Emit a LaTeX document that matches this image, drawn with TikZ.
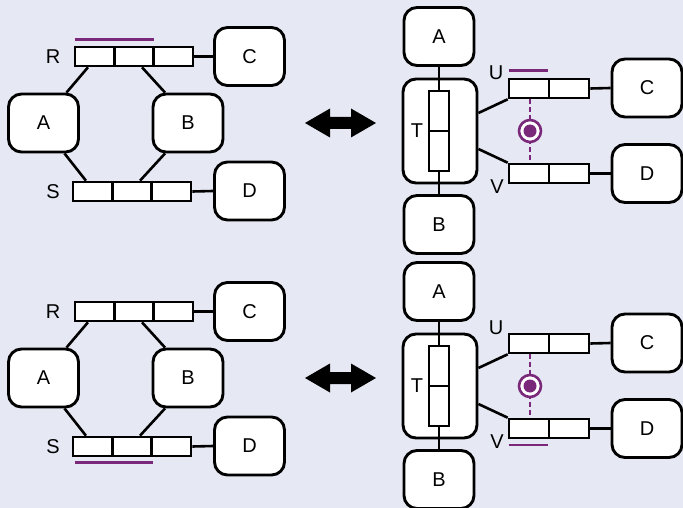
\documentclass[tikz,border=0pt]{standalone}
\usepackage{fontspec}
\setmainfont{Liberation Sans}
\definecolor{bg}{RGB}{230,233,244}
\definecolor{plum}{RGB}{122,40,122}
\tikzset{
  box/.style={draw, line width=2.9pt, fill=white, rounded corners=13pt,
    minimum width=70pt, minimum height=58pt, inner sep=0pt,
    font=\fontsize{20}{22}\selectfont},
  cell/.style={draw, line width=2.6pt, fill=white, minimum width=39.3pt,
    minimum height=19pt, inner sep=0pt},
  vcell/.style={draw, line width=2.6pt, fill=white, minimum width=20pt,
    minimum height=40pt, inner sep=0pt},
  tag/.style={font=\fontsize{20}{22}\selectfont, inner sep=0pt},
  wire/.style={line width=2.6pt},
  hiline/.style={plum, line width=2.4pt},
  link/.style={plum, line width=2.4pt, dash pattern=on 5pt off 3pt},
  ring/.style={draw=plum, line width=2.6pt, fill=white, circle,
    minimum size=22pt, inner sep=0pt},
  dot/.style={fill=plum, circle, minimum size=13pt, inner sep=0pt},
}
% ring network: A and B joined through the two three-cell buses R and S
\newcommand\ringnet{%
  \node[cell] (R1) at (94.67,56.5) {};
  \node[cell] (R2) at (134,56.5) {};
  \node[cell] (R3) at (173.33,56.5) {};
  \node[cell] (S1) at (92.67,191.5) {};
  \node[cell] (S2) at (132,191.5) {};
  \node[cell] (S3) at (171.33,191.5) {};
  \node[tag] (Rl) at (53,57) {R};
  \node[tag] (Sl) at (53,192) {S};
  \node[box] (A) at (43.5,123) {A};
  \node[box] (B) at (188,123) {B};
  \node[box] (C) at (249.5,56.5) {C};
  \node[box] (D) at (249.5,191) {D};
  \draw[wire] ([xshift=-6.7pt]R1.south) -- ([xshift=23pt]A.north);
  \draw[wire] ([xshift=8pt]R2.south) -- ([xshift=-23pt]B.north);
  \draw[wire] ([xshift=21pt]A.south) -- ([xshift=-6.7pt]S1.south|-S1.north);
  \draw[wire] ([xshift=-23pt]B.south) -- ([xshift=8pt]S2.south|-S2.north);
  \draw[wire] (R3.east) -- (C.west);
  \draw[wire] (S3.east) -- (D.west);
}
% tree network: A and B through the trunk T, which feeds buses U and V
\newcommand\treenet{%
  \node[box] (A) at (439,36.5) {A};
  \node[box, minimum width=74pt, minimum height=104pt] (T) at (440,131) {};
  \node[vcell] (T1) at (439,111) {};
  \node[vcell] (T2) at (439,151) {};
  \node[tag] (Tl) at (417,131) {T};
  \node[box] (B) at (439,224.5) {B};
  \node[cell, minimum width=40pt] (U1) at (529,88.5) {};
  \node[cell, minimum width=40pt] (U2) at (569,88.5) {};
  \node[cell, minimum width=40pt] (V1) at (529,173.5) {};
  \node[cell, minimum width=40pt] (V2) at (569,173.5) {};
  \node[tag] (Ul) at (496,73) {U};
  \node[tag] (Vl) at (497,187) {V};
  \node[box] (C) at (647,88) {C};
  \node[box] (D) at (647,173.5) {D};
  \draw[wire] (A) -- (T1);
  \draw[wire] (T2) -- (B);
  \draw[wire] ([yshift=18pt]T.east) -- (U1.south west);
  \draw[wire] ([yshift=-18pt]T.east) -- (V1.north west);
  \draw[wire] (U2.east) -- (C.west);
  \draw[wire] (V2.east) -- (D.west);
  \draw[link] ([xshift=1pt]U1.south) -- ([xshift=1pt]V1.north);
  \node[ring] (O) at (530,131) {};
  \node[dot] (Oc) at (O) {};
}
% filled two-headed arrow centred on a coordinate
\newcommand\swap[1]{%
  \fill ([xshift=-35.5pt]#1) -- ++(25pt,14.5pt) -- ++(0,-8.5pt) -- ++(21pt,0)
    -- ++(0,8.5pt) -- ++(25pt,-14.5pt) -- ++(-25pt,-14.5pt) -- ++(0,8.5pt)
    -- ++(-21pt,0) -- ++(0,-8.5pt) -- cycle;
}
\begin{document}
\begin{tikzpicture}[x=1pt, y=-1pt]
  \useasboundingbox (0,0) rectangle (683,508);
  \fill[bg] (0,0) rectangle (683,508);

  \begin{scope}[name prefix=p1-]
    \ringnet
    \draw[hiline] ([xshift=1pt, yshift=6pt]R1.north west) -- ([xshift=-1pt, yshift=6pt]R2.north east);
  \end{scope}
  \begin{scope}[name prefix=p2-]
    \treenet
    \draw[hiline] ([xshift=1pt, yshift=7pt]U1.north west) -- ([xshift=-2pt, yshift=7pt]U1.north east);
  \end{scope}
  \begin{scope}[yshift=-255pt, name prefix=p3-]
    \ringnet
    \draw[hiline] ([xshift=3pt, yshift=-5pt]S1.south west) -- ([yshift=-5pt]S2.south east);
  \end{scope}
  \begin{scope}[yshift=-255pt, name prefix=p4-]
    \treenet
    \draw[hiline] ([xshift=1pt, yshift=-5.5pt]V1.south west) -- ([xshift=-2pt, yshift=-5.5pt]V1.south east);
  \end{scope}

  \coordinate (X1) at (340.5,123);
  \coordinate (X2) at (340.5,378);
  \swap{X1}
  \swap{X2}
\end{tikzpicture}
\end{document}
